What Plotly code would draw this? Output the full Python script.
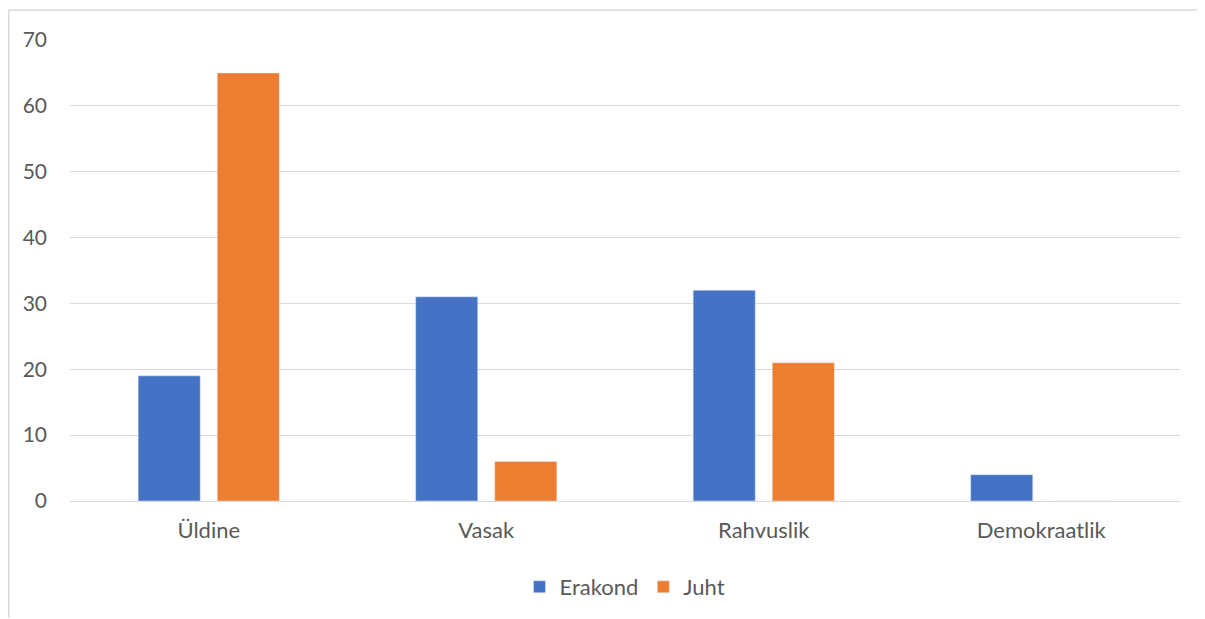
import plotly.graph_objects as go

categories = ["Üldine", "Vasak", "Rahvuslik", "Demokraatlik"]
erakond = [19, 31, 32, 4]
juht = [65, 6, 21, 0]
y_ticks = [0, 10, 20, 30, 40, 50, 60, 70]

font_family = "Lato, Open Sans, sans-serif"
txt = "#595959"

fig = go.Figure()
fig.add_trace(go.Bar(name="Erakond", x=categories, y=erakond, marker_color="#4472C4"))
fig.add_trace(go.Bar(name="Juht", x=categories, y=juht, marker_color="#ED7D31"))

OFF = 8  # page body margin
W, H = 1205 - OFF, 619 - OFF
L, T = 70 - OFF, 40 - OFF
R = W - (1180 - OFF)
B = H - (502 - OFF)
pw, ph = W - L - R, H - T - B

def px(x):
    return (x - OFF - L) / pw

def py(y):
    return (H - B - (y - OFF)) / ph

border = dict(color="#D9D9D9", width=1.5)

fig.update_layout(
    width=W, height=H,
    margin=dict(l=L, r=R, t=T, b=B),
    paper_bgcolor="white", plot_bgcolor="white",
    barmode="group", bargap=0.43, bargroupgap=0.215,
    font=dict(family=font_family, size=22, color=txt),
    showlegend=True,
    legend=dict(orientation="h", x=0.5, xanchor="center", y=py(587), yanchor="middle",
                font=dict(size=22, color=txt), itemwidth=30, traceorder="normal"),
    xaxis=dict(showgrid=False, showline=False, ticks="", tickfont=dict(size=22, color=txt),
               ticklabelstandoff=14),
    yaxis=dict(range=[0, 70], tickvals=y_ticks, showgrid=True, gridcolor="#D9D9D9", gridwidth=1,
               zeroline=True, zerolinecolor="#D9D9D9", zerolinewidth=1,
               showline=False, ticks="", tickfont=dict(size=21, color=txt), ticklabelstandoff=22),
    shapes=[
        dict(type="line", xref="paper", yref="paper",
             x0=px(8.8), x1=px(1205), y0=py(10), y1=py(10), line=border, layer="below"),
        dict(type="line", xref="paper", yref="paper",
             x0=px(8.8), x1=px(8.8), y0=py(10), y1=py(619), line=border, layer="below"),
    ],
)

fig.write_html("out.html", config={"displayModeBar": False})
